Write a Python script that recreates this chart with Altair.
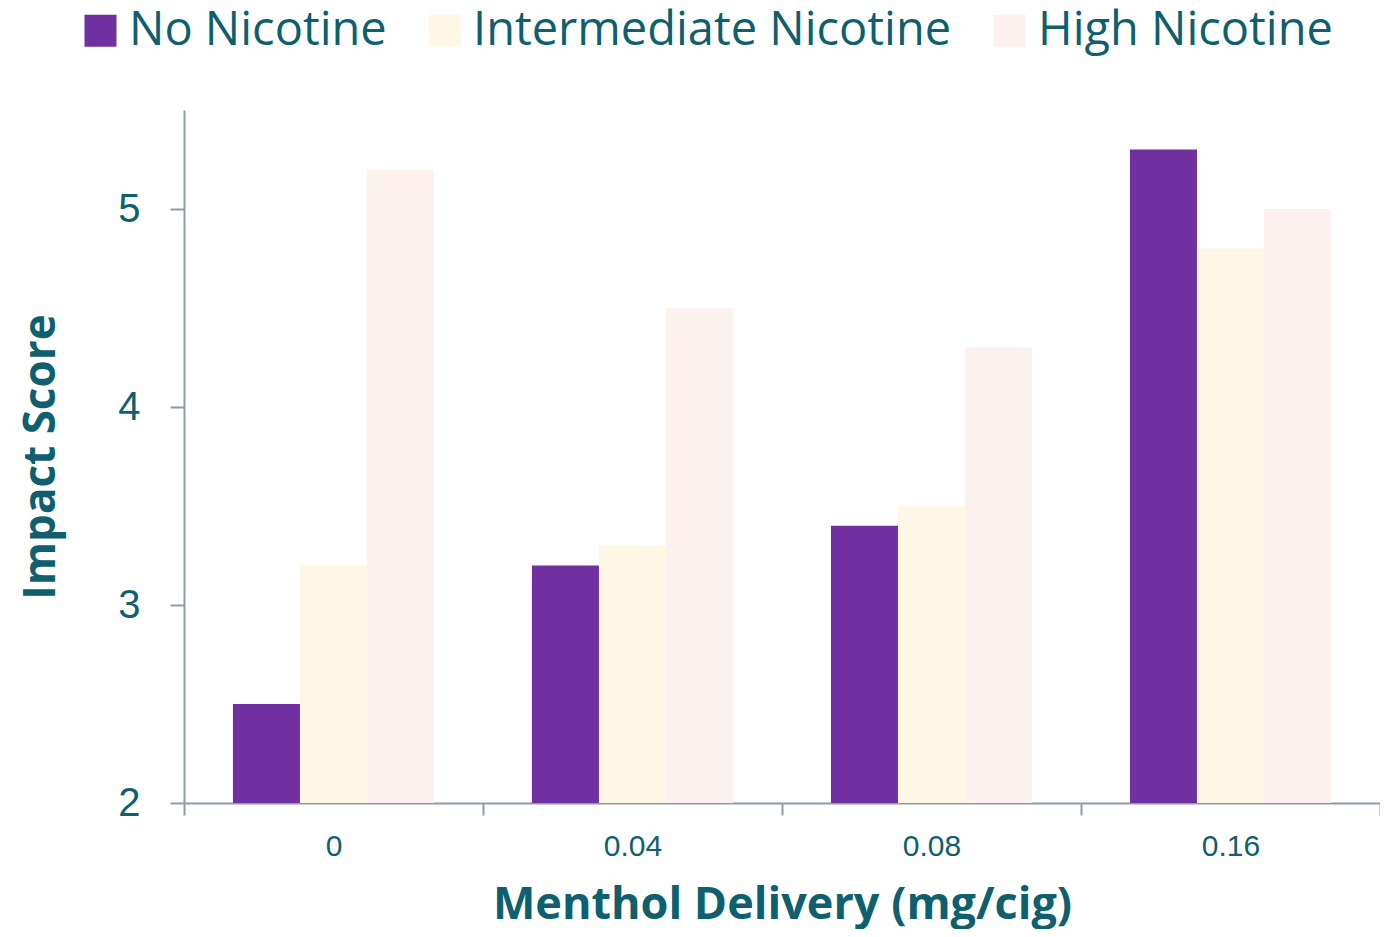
import altair as alt
import pandas as pd

categories = ["0", "0.04", "0.08", "0.16"]
series = ["No Nicotine", "Intermediate Nicotine", "High Nicotine"]
no_nic = [2.5, 3.2, 3.4, 5.3]
inter_nic = [3.2, 3.3, 3.5, 4.8]
high_nic = [5.2, 4.5, 4.3, 5.0]
colors = ["#7030A0", "#FFF7E6", "#FCF1EE"]

rows = []
for i, c in enumerate(categories):
    for s, vals in zip(series, [no_nic, inter_nic, high_nic]):
        rows.append({"menthol": c, "series": s, "score": vals[i]})
df = pd.DataFrame(rows)

teal = "#0F5F6E"
axis_grey = "#8A9CA4"

chart = alt.Chart(df).mark_bar(clip=True).encode(
    x=alt.X("menthol:N", sort=categories,
            scale=alt.Scale(paddingInner=0, paddingOuter=0),
            axis=alt.Axis(title="Menthol Delivery (mg/cig)", labelAngle=0,
                          tickBand="extent", labelFont="Liberation Sans",
                          labelFontSize=30, labelColor=teal, labelPadding=16,
                          titleFont="Open Sans", titleFontSize=45, titleFontWeight="bold",
                          titleColor=teal, titlePadding=21,
                          domainColor=axis_grey, tickColor=axis_grey,
                          domainWidth=2, tickWidth=2, tickSize=12)),
    xOffset=alt.XOffset("series:N", sort=series,
                        scale=alt.Scale(paddingOuter=0.73, paddingInner=0)),
    y=alt.Y("score:Q", scale=alt.Scale(domain=[2, 5.5], nice=False, zero=False),
            axis=alt.Axis(title="Impact Score", values=[2, 3, 4, 5], grid=False,
                          labelFont="Liberation Sans", labelFontSize=40,
                          labelColor=teal, labelPadding=30,
                          titleFont="Open Sans", titleFontSize=44, titleFontWeight="bold",
                          titleColor=teal, titlePadding=54,
                          domainColor=axis_grey, tickColor=axis_grey,
                          domainWidth=2, tickWidth=2, tickSize=14)),
    y2=alt.datum(2),
    color=alt.Color("series:N", sort=series,
                    scale=alt.Scale(domain=series, range=colors),
                    legend=alt.Legend(title=None, orient="none", direction="horizontal",
                                      legendX=-107, legendY=-103,
                                      symbolType="square", symbolSize=1024,
                                      symbolStrokeWidth=0,
                                      labelFont="Open Sans", labelFontSize=47,
                                      labelColor=teal, labelLimit=700,
                                      columnPadding=34, symbolOffset=0, labelOffset=5)),
).properties(
    width=1196, height=693,
    autosize=alt.AutoSizeParams(type="none"),
    padding={"left": 176, "top": 102, "right": 0, "bottom": 126},
).configure_view(stroke=None)

chart.save("out.html", embed_options={"renderer": "svg", "actions": False})
